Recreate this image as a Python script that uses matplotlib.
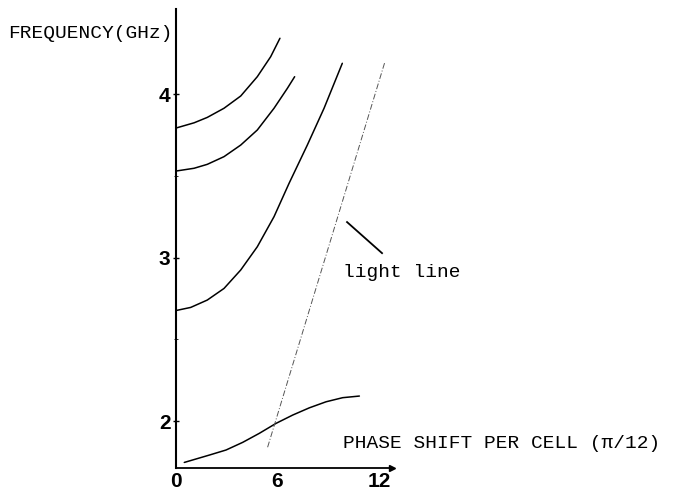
import matplotlib
matplotlib.use("Agg")
import matplotlib.pyplot as plt

# dispersion curves: phase shift (pi/12 units) vs frequency (GHz)
band1_x = [0.49, 1.97, 2.96, 3.95, 4.93, 5.92, 6.91, 7.89, 8.88, 9.86, 10.85]
band1_y = [1.747, 1.792, 1.823, 1.870, 1.925, 1.986, 2.037, 2.081, 2.118, 2.143, 2.153]

band2_x = [0.0, 0.87, 1.85, 2.84, 3.83, 4.81, 5.80, 6.69, 7.77, 8.76, 9.84]
band2_y = [2.676, 2.695, 2.740, 2.811, 2.924, 3.066, 3.250, 3.454, 3.688, 3.913, 4.188]

band3_x = [0.0, 1.07, 1.85, 2.84, 3.83, 4.81, 5.80, 6.59, 7.02]
band3_y = [3.529, 3.546, 3.570, 3.617, 3.688, 3.780, 3.913, 4.035, 4.106]

band4_x = [0.0, 1.07, 1.85, 2.84, 3.83, 4.81, 5.60, 6.15]
band4_y = [3.792, 3.824, 3.857, 3.913, 3.988, 4.106, 4.228, 4.341]

light_x = [5.42, 12.37]
light_y = [1.84, 4.20]

x_ticks = [0, 6, 12]
y_ticks = [2, 3, 4]
y_minor = [2.5, 3.5]

mono = ["Liberation Mono", "DejaVu Sans Mono"]
bold = ["Liberation Sans", "DejaVu Sans"]

W, H = 678, 497
fig = plt.figure(figsize=(W / 100, H / 100), dpi=100)
ax = fig.add_axes([176 / W, (H - 468) / H, (392 - 176) / W, (468 - 9) / H])
ax.set_xlim(0, 12.78)
ax.set_ylim(1.713, 4.52)

for bx, by in [(band1_x, band1_y), (band2_x, band2_y),
               (band3_x, band3_y), (band4_x, band4_y)]:
    ax.plot(bx, by, color="black", lw=1.1, clip_on=False,
            solid_joinstyle="round", solid_capstyle="round")
ax.plot(light_x, light_y, color="#555555", lw=0.7, ls=(0, (6, 2, 1, 2)), clip_on=False)

# pointer to the light line
ax.plot([10.12, 12.19], [3.217, 3.027], color="black", lw=1.3, clip_on=False)
ax.text(9.88, 2.91, "light line", fontsize=14, family=mono,
        ha="left", va="center")

ax.spines["top"].set_visible(False)
ax.spines["right"].set_visible(False)
ax.spines["left"].set_linewidth(1.5)
ax.spines["bottom"].set_linewidth(1.3)
ax.plot(1, 0, marker=">", color="black", markersize=4,
        transform=ax.transAxes, clip_on=False)

ax.set_xticks(x_ticks)
ax.set_yticks(y_ticks)
ax.set_yticks(y_minor, minor=True)
ax.tick_params(axis="both", direction="inout", length=4, width=1, pad=2,
               labelsize=15)
ax.tick_params(axis="y", which="minor", direction="inout", length=3)
ax.tick_params(axis="x", length=0, pad=3)
for lab in ax.get_xticklabels() + ax.get_yticklabels():
    lab.set_family(bold)
    lab.set_fontweight("bold")

fig.text(8 / W, 1 - 33 / H, "FREQUENCY(GHz)", fontsize=14, family=mono,
         ha="left", va="center")
fig.text(343 / W, 1 - 443 / H, "PHASE SHIFT PER CELL (π/12)", fontsize=14,
         family=mono, ha="left", va="center")

fig.savefig("out.png", dpi=100)
